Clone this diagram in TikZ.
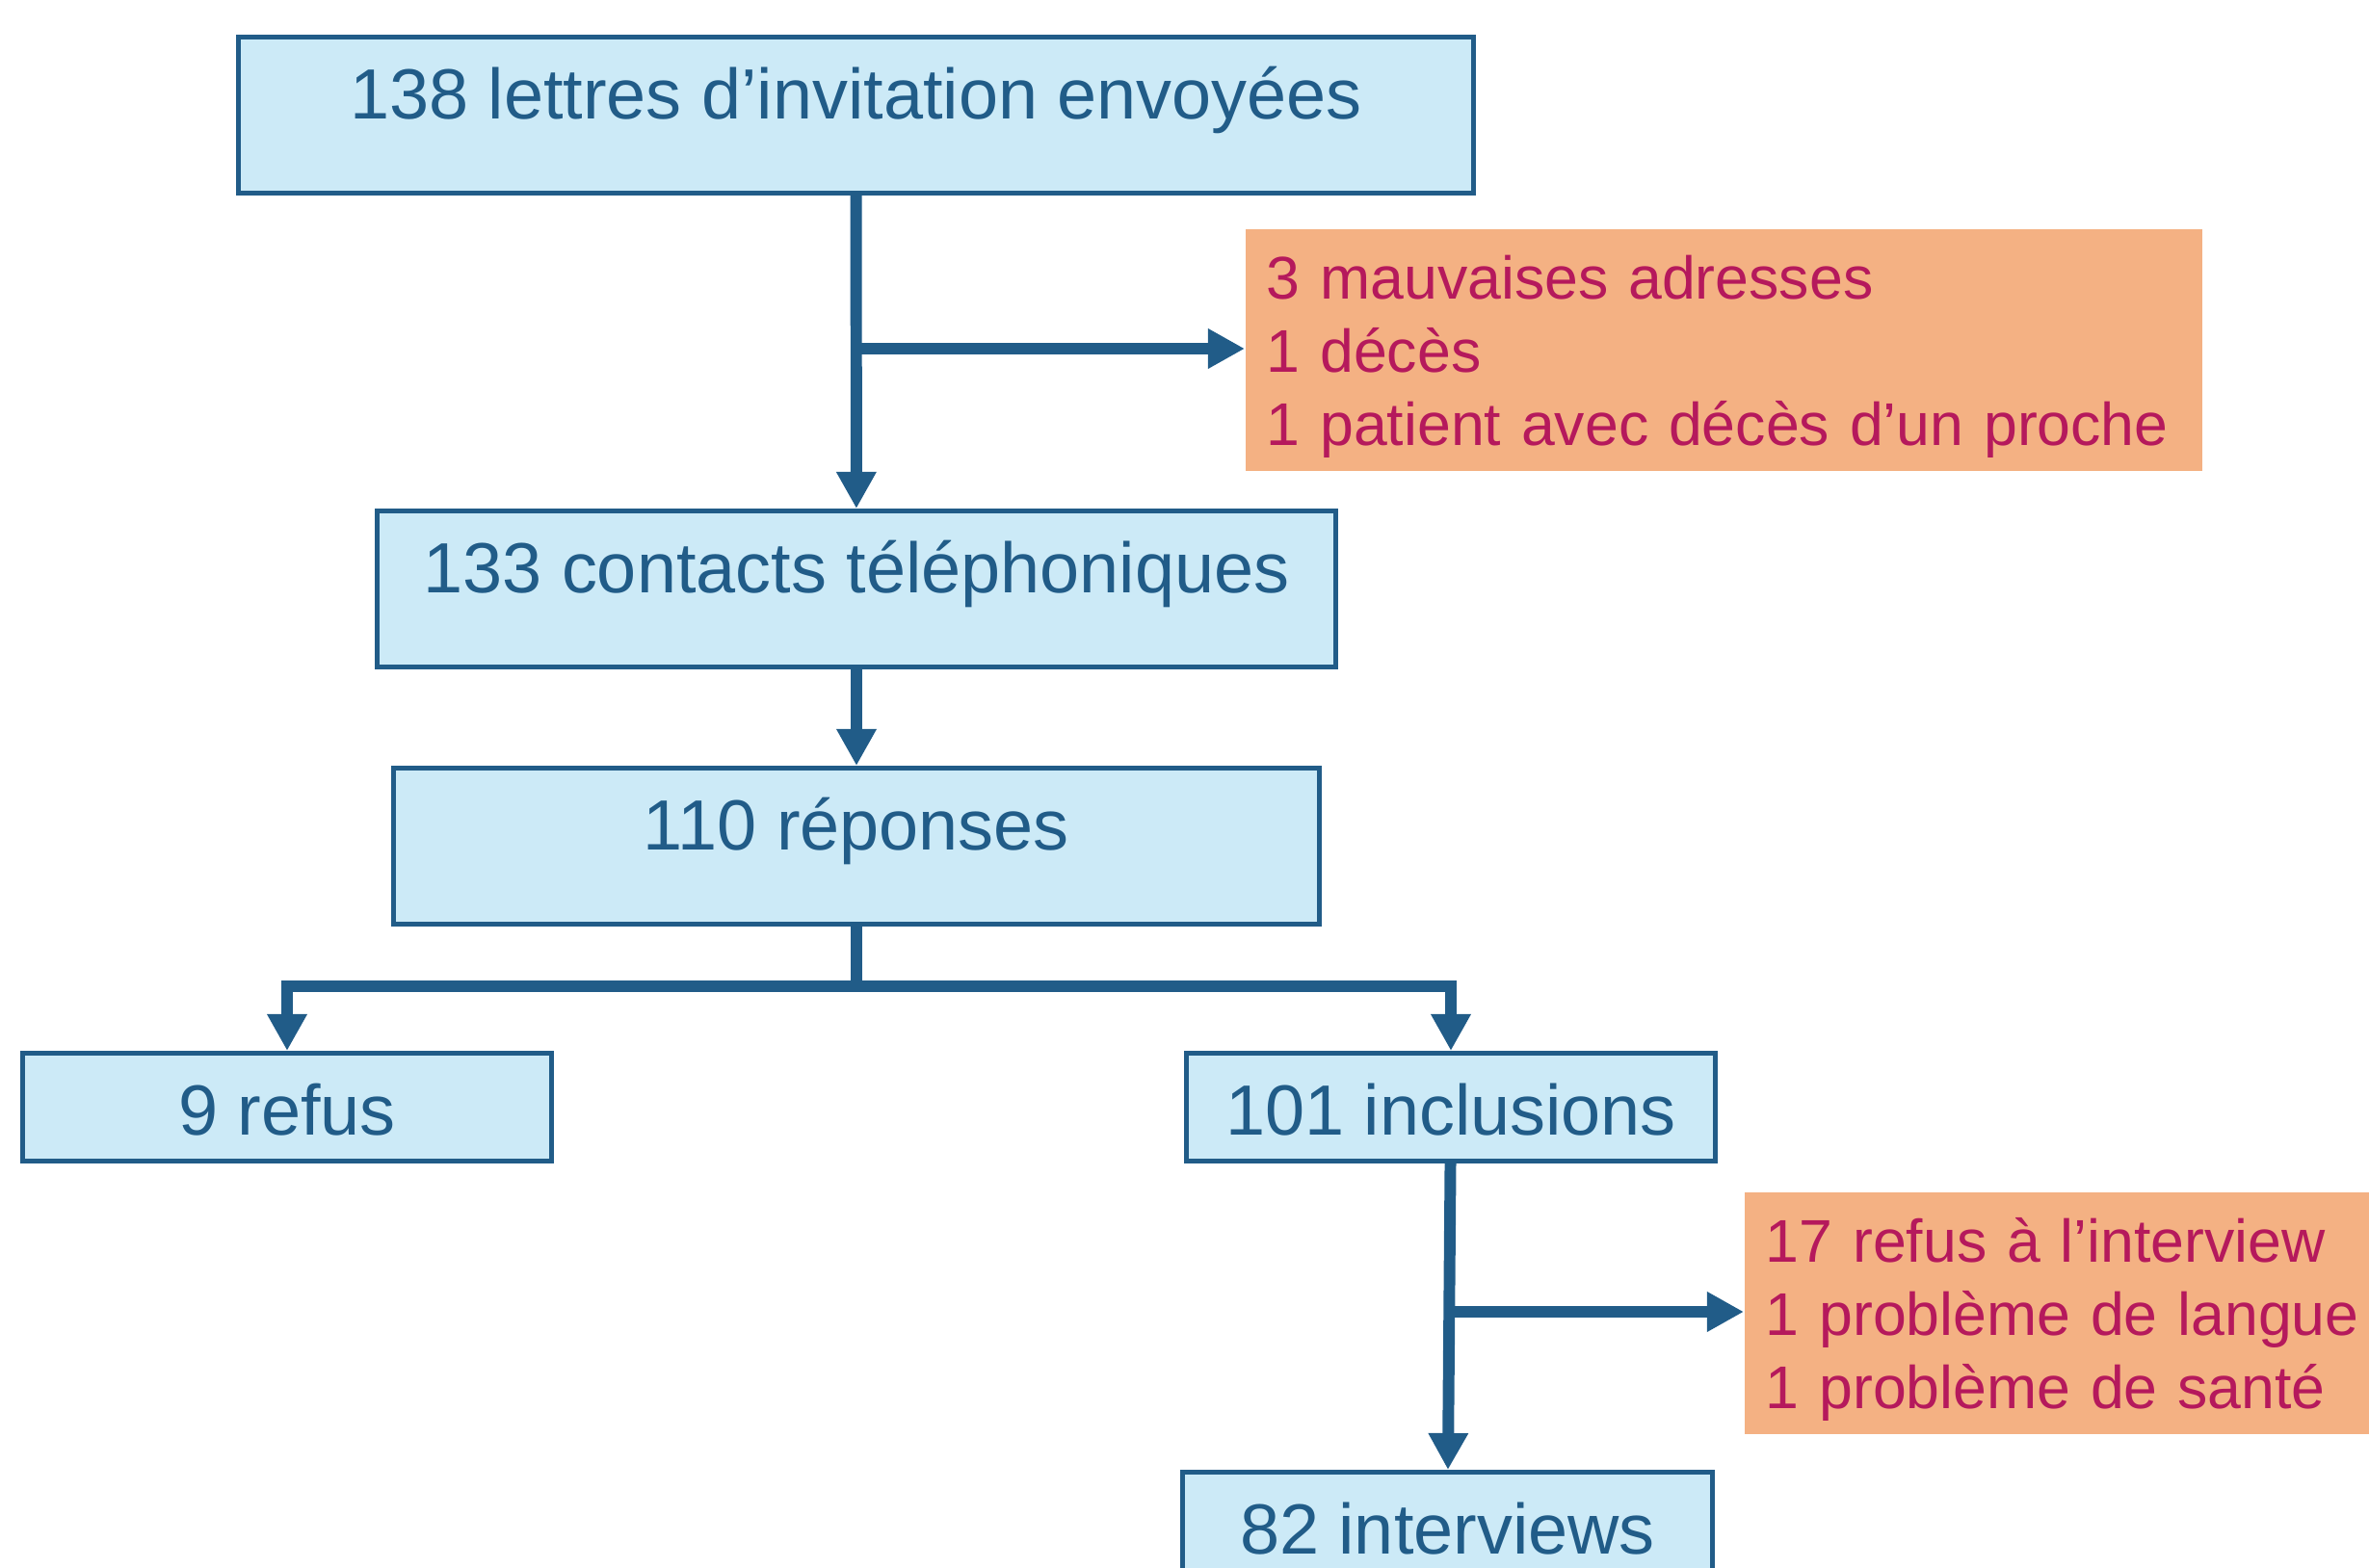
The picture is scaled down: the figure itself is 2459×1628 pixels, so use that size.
\documentclass[tikz,border=0pt]{standalone}
\usepackage{fontspec}
\setmainfont{Liberation Sans}
\usetikzlibrary{arrows.meta}

\definecolor{flowblue}{HTML}{215C88}
\definecolor{flowfill}{HTML}{CCEAF7}
\definecolor{exclfill}{HTML}{F4B183}
\definecolor{excltext}{HTML}{B5195C}

\begin{document}
\begin{tikzpicture}[
    x=0.01cm, y=-0.01cm,
    >={Triangle[length=3.8mm, width=3.9mm]},
    blockbox/.style={
        draw=flowblue, line width=1.4pt, fill=flowfill,
        text=flowblue, font=\fontsize{21}{25}\selectfont,
        inner sep=0pt, text height=0.85cm, anchor=north,
    },
    exclbox/.style={
        fill=exclfill, text=excltext,
        font=\fontsize{17.8}{21.6}\selectfont,
        align=left, anchor=north west,
        inner xsep=0.22cm, inner ysep=0pt, minimum height=2.51cm,
        execute at begin node={\rule{0pt}{0.6cm}},
    },
    flowline/.style={draw=flowblue, line width=3.4pt},
]

\useasboundingbox (0,0) rectangle (2459,1628);

% ── Main boxes ──────────────────────────────────────────────
\node[blockbox, minimum width=12.81cm, text depth=0.77cm]
    (lettres) at (888.5, 36) {138 lettres d’invitation envoyées};
\node[blockbox, minimum width=9.94cm, text depth=0.77cm]
    (contacts) at (889, 528) {133 contacts téléphoniques};
\node[blockbox, minimum width=9.60cm, text depth=0.77cm]
    (reponses) at (889, 795) {110 réponses};
\node[blockbox, minimum width=5.48cm, text depth=0.27cm]
    (refus) at (298, 1091) {9 refus};
\node[blockbox, minimum width=5.48cm, text depth=0.27cm]
    (inclusions) at (1506, 1091) {101 inclusions};
\node[blockbox, minimum width=5.49cm, text depth=0.27cm]
    (interviews) at (1502.5, 1526) {82 interviews};

% ── Exclusion boxes ─────────────────────────────────────────
\node[exclbox, text width=9.49cm] (exclu1) at (1292, 237)
    {3 mauvaises adresses\\1 décès\\1 patient avec décès d’un proche};
\node[exclbox, text width=6.30cm] (exclu2) at (1810, 1237)
    {17 refus à l’interview\\1 problème de langue\\1 problème de santé};

% ── Connectors ──────────────────────────────────────────────
\coordinate (split1) at (889, 362);
\coordinate (fork) at (889, 1024);
\coordinate (split2) at (1504, 1362);

\draw[flowline, ->] (lettres) -- (contacts);
\draw[flowline, ->] (split1) -- (split1 -| exclu1.west);
\draw[flowline, ->] (contacts) -- (reponses);
\draw[flowline] (reponses.south) -- (fork);
\draw[flowline, ->] (fork) -| (refus);
\draw[flowline, ->] (fork) -| (inclusions);
\draw[flowline, ->] (inclusions) -- (interviews);
\draw[flowline, ->] (split2) -- (split2 -| exclu2.west);

\end{tikzpicture}
\end{document}
